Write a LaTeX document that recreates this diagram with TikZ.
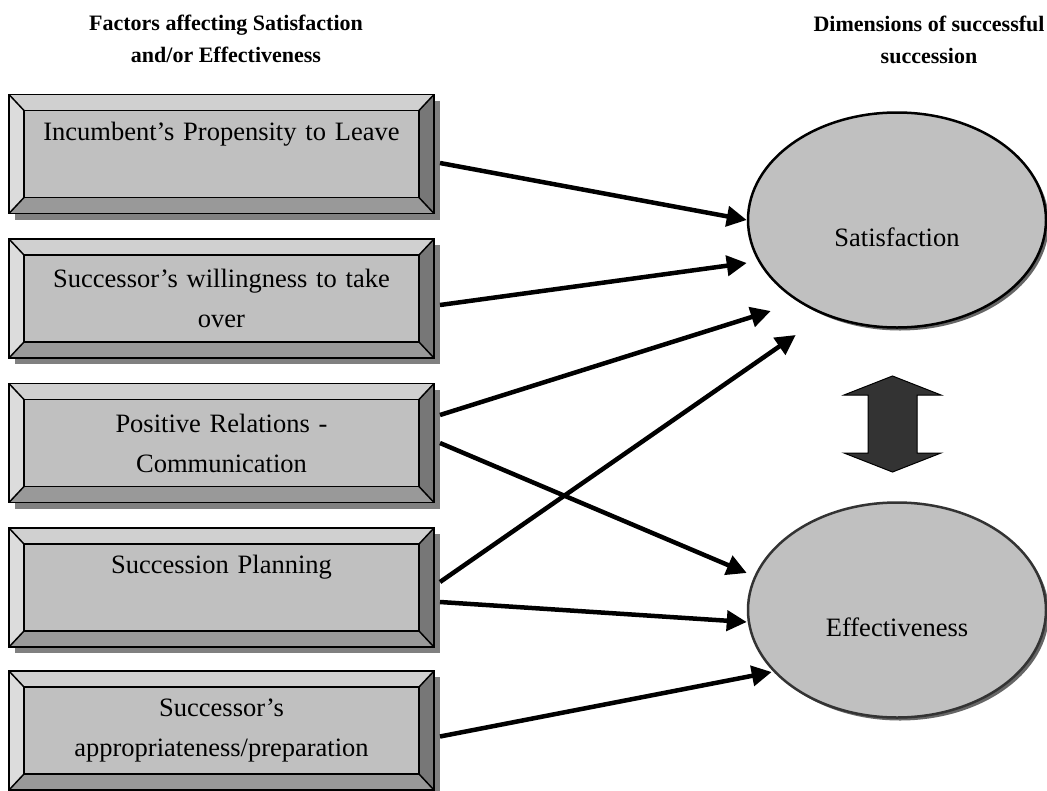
\documentclass[tikz,border=0pt]{standalone}
\usepackage{fontspec}
\setmainfont{Liberation Serif}
\usetikzlibrary{arrows.meta,shapes.geometric,shadows}

\definecolor{faceGray}{HTML}{C0C0C0}
\definecolor{bevelLeft}{HTML}{DCDCDC}
\definecolor{bevelTop}{HTML}{D0D0D0}
\definecolor{bevelRight}{HTML}{777777}
\definecolor{bevelBottom}{HTML}{999999}
\definecolor{boxShadow}{HTML}{808080}
\definecolor{swapFill}{HTML}{333333}

\tikzset{
  factor/.style={rectangle, draw=black, line width=1.5pt, outer sep=0pt,
    fill=faceGray, minimum width=425pt, minimum height=119pt,
    text width=400pt, align=center, font=\fontsize{26.5}{40}\selectfont,
    drop shadow={shadow xshift=6pt, shadow yshift=-6pt, fill=boxShadow, opacity=1}},
  topline/.style={text depth=46pt},
  dimension/.style={ellipse, draw=black, line width=2.5pt, fill=faceGray,
    minimum width=298pt, minimum height=215pt, text height=54pt,
    font=\fontsize{26.5}{32}\selectfont,
    drop shadow={shadow xshift=3pt, shadow yshift=-3pt, fill=black!60, opacity=1}},
  heading/.style={align=center, font=\fontsize{22}{32}\selectfont\bfseries},
  link/.style={line width=4.5pt, -{Triangle[length=20pt,width=20pt]}},
}

\begin{document}
\begin{tikzpicture}
\def\unit{1pt}
\providecommand{\bevelX}{15pt}
\providecommand{\bevelY}{16pt}
\begin{scope}[x=\unit, y=-\unit, line join=miter]
  \useasboundingbox (0,0) rectangle (1047,790);
  % Headings
  \node[heading] (lefthead) at (226,39) {Factors affecting Satisfaction\\and/or Effectiveness};
  \node[heading] (righthead) at (929,40) {Dimensions of successful\\succession};
  % Factor boxes
  \node[factor, topline] (inc) at (221.5,154) {Incumbent’s Propensity to Leave};
  \node[factor] (wil) at (221.5,298.5) {Successor’s willingness to take\\over};
  \node[factor] (rel) at (221.5,443) {Positive Relations -\\Communication};
  \node[factor, topline] (plan) at (221.5,587.5) {Succession Planning};
  \node[factor] (prep) at (221.5,730.5) {Successor’s\\appropriateness/preparation};
  % Bevelled frames
  \foreach \n in {inc,wil,rel,plan,prep} {
    \fill[bevelTop] (\n.north west) -- (\n.north east)
      -- ([xshift=-\bevelX,yshift=-\bevelY]\n.north east) -- ([xshift=\bevelX,yshift=-\bevelY]\n.north west) -- cycle;
    \fill[bevelLeft] (\n.north west) -- ([xshift=\bevelX,yshift=-\bevelY]\n.north west)
      -- ([xshift=\bevelX,yshift=\bevelY]\n.south west) -- (\n.south west) -- cycle;
    \fill[bevelRight] (\n.north east) -- ([xshift=-\bevelX,yshift=-\bevelY]\n.north east)
      -- ([xshift=-\bevelX,yshift=\bevelY]\n.south east) -- (\n.south east) -- cycle;
    \fill[bevelBottom] (\n.south west) -- (\n.south east)
      -- ([xshift=-\bevelX,yshift=\bevelY]\n.south east) -- ([xshift=\bevelX,yshift=\bevelY]\n.south west) -- cycle;
    \begin{scope}[draw=black, line width=1.5pt]
      \draw ([xshift=\bevelX,yshift=-\bevelY]\n.north west) rectangle ([xshift=-\bevelX,yshift=\bevelY]\n.south east);
      \draw (\n.north west) -- ([xshift=\bevelX,yshift=-\bevelY]\n.north west);
      \draw (\n.north east) -- ([xshift=-\bevelX,yshift=-\bevelY]\n.north east);
      \draw (\n.south west) -- ([xshift=\bevelX,yshift=\bevelY]\n.south west);
      \draw (\n.south east) -- ([xshift=-\bevelX,yshift=\bevelY]\n.south east);
      \draw (\n.north west) rectangle (\n.south east);
    \end{scope}
  }
  % Dimensions
  \node[dimension] (sat) at (897,220) {Satisfaction};
  \node[dimension, draw=black!80] (eff) at (897,610) {Effectiveness};
  % Two-way arrow between the dimensions
  \coordinate (swap) at (892.5,424);
  \fill[boxShadow, shift={(4,4)}] (swap) ++(0,-48) -- ++(48.5,19) -- ++(-24,0) -- ++(0,58)
    -- ++(24,0) -- ++(-48.5,19) -- ++(-48.5,-19) -- ++(24,0) -- ++(0,-58) -- ++(-24,0) -- cycle;
  \filldraw[fill=swapFill, draw=black, line width=1pt] (swap) ++(0,-48) -- ++(48.5,19) -- ++(-24,0) -- ++(0,58)
    -- ++(24,0) -- ++(-48.5,19) -- ++(-48.5,-19) -- ++(24,0) -- ++(0,-58) -- ++(-24,0) -- cycle;
  % Connectors
  \draw[link] ([xshift=6pt,yshift=-9pt]inc.east) -- (sat.west);
  \draw[link] ([xshift=6pt,yshift=-6.5pt]wil.east) -- ([yshift=-43pt]sat.west);
  \draw[link] ([xshift=6pt,yshift=28pt]rel.east) -- ([xshift=24pt,yshift=-91pt]sat.west);
  \draw[link] ([xshift=6pt,yshift=5.5pt]plan.east) -- ([xshift=49pt,yshift=-115pt]sat.west);
  \draw[link] ([xshift=6pt]rel.east) -- ([yshift=37pt]eff.west);
  \draw[link] ([xshift=6pt,yshift=-14.5pt]plan.east) -- ([yshift=-12pt]eff.west);
  \draw[link] ([xshift=6pt,yshift=-6pt]prep.east) -- ([xshift=25pt,yshift=-62pt]eff.west);
\end{scope}
\end{tikzpicture}
\end{document}
